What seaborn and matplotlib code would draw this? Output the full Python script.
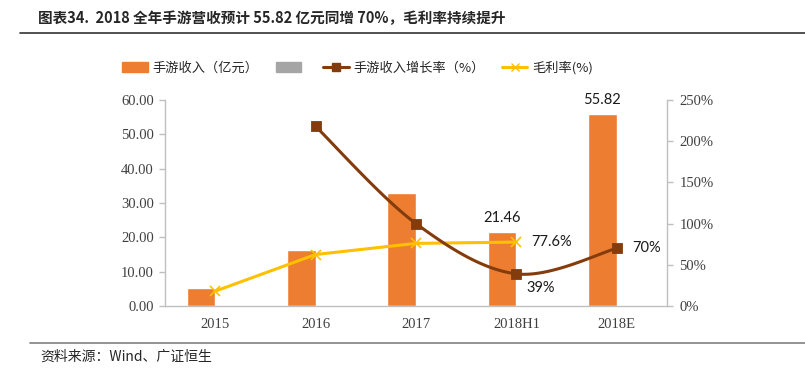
import matplotlib
import numpy as np
import pandas as pd
import matplotlib.pyplot as plt
import seaborn as sns
from matplotlib.lines import Line2D
from matplotlib.patches import Patch
from matplotlib.ticker import FuncFormatter

matplotlib.use('Agg')

# data
periods = ["2015", "2016", "2017", "2018H1", "2018E"]
revenue = [5.1, 16.4, 33.0, 21.46, 55.82]          # 亿元
growth = [np.nan, 218.0, 100.0, 39.0, 70.0]         # %
margin = [18.0, 62.5, 76.0, 77.6, np.nan]           # %

rev_name = "手游收入（亿元）"
blank_name = " "
growth_name = "手游收入增长率（%）"
margin_name = "毛利率(%)"

ORANGE = "#ED7D31"
GREY = "#A5A5A5"
BROWN = "#843C0C"
YELLOW = "#FFC000"
AXIS = "#BFBFBF"
TICK_TXT = "#404040"

CJK = ["Noto Sans CJK SC", "DejaVu Sans"]
SERIF = ["Liberation Serif", "Noto Sans CJK SC"]
LABEL = ["Lato", "DejaVu Sans"]


def smooth(xs, ys, sx=100.4, sy=0.824, n=30):
    """Excel-like smoothed line (Catmull-Rom), computed in pixel-ish space."""
    px = np.asarray(xs, float) * sx
    py = np.asarray(ys, float) * sy
    pts = np.column_stack([px, py])
    pts = np.vstack([pts[0], pts, pts[-1]])
    out = []
    for i in range(1, len(pts) - 2):
        p0, p1, p2, p3 = pts[i - 1], pts[i], pts[i + 1], pts[i + 2]
        c1 = p1 + (p2 - p0) / 6.0
        c2 = p2 - (p3 - p1) / 6.0
        t = np.linspace(0, 1, n)[:, None]
        seg = ((1 - t) ** 3) * p1 + 3 * ((1 - t) ** 2) * t * c1 + 3 * (1 - t) * t ** 2 * c2 + t ** 3 * p2
        out.append(seg if i == 1 else seg[1:])
    out = np.vstack(out)
    return out[:, 0] / sx, out[:, 1] / sy


sns.set_style("white")
plt.rcParams['font.family'] = CJK

fig = plt.figure(figsize=(8.05, 3.79), dpi=100)
ax = fig.add_axes([165 / 805, 1 - 306 / 379, 502 / 805, 206 / 379])

df = pd.DataFrame({
    "period": periods * 2,
    "value": revenue + [np.nan] * len(periods),
    "series": [rev_name] * len(periods) + [blank_name] * len(periods),
})
sns.barplot(data=df, x="period", y="value", hue="series", order=periods,
            palette=[ORANGE, GREY], width=0.57, dodge=True, ax=ax,
            legend=False, saturation=1)

ax.set_xlim(-0.5, 4.5)
ax.set_ylim(0, 60)
ax.set_yticks(np.arange(0, 61, 10))
ax.yaxis.set_major_formatter(FuncFormatter(lambda v, p: f"{v:.2f}"))
ax.set_xlabel("")
ax.set_ylabel("")
ax.set_xticks(range(len(periods)))
ax.set_xticklabels(periods)
ax.set_xticks(np.arange(-0.5, 4.6, 1), minor=True)
ax.tick_params(axis='x', which='major', length=0, pad=9)
ax.tick_params(axis='x', which='minor', length=5, color=AXIS, width=1)
ax.tick_params(axis='y', length=4, color=AXIS, width=1, pad=4, left=True)
for lbl in ax.get_xticklabels() + ax.get_yticklabels():
    lbl.set_fontfamily(SERIF)
    lbl.set_fontsize(10.5)
    lbl.set_color(TICK_TXT)
for s in ["top", "right"]:
    ax.spines[s].set_visible(False)
for s in ["left", "bottom"]:
    ax.spines[s].set_color(AXIS)
    ax.spines[s].set_linewidth(1)

ax2 = ax.twinx()
ax2.set_ylim(0, 250)
ax2.set_yticks(np.arange(0, 251, 50))
ax2.yaxis.set_major_formatter(FuncFormatter(lambda v, p: f"{v:.0f}%"))
ax2.tick_params(axis='y', length=4, color=AXIS, width=1, pad=5, right=True)
for lbl in ax2.get_yticklabels():
    lbl.set_fontfamily(SERIF)
    lbl.set_fontsize(10.5)
    lbl.set_color(TICK_TXT)
for s in ["top", "left", "bottom"]:
    ax2.spines[s].set_visible(False)
ax2.spines["right"].set_color(AXIS)
ax2.spines["right"].set_linewidth(1)

xpos = np.arange(len(periods))

# gross margin: straight line with x markers
m = ~np.isnan(margin)
sns.lineplot(x=xpos[m], y=np.array(margin)[m], ax=ax2, color=YELLOW,
             linewidth=2.2, marker="x", markersize=7, markeredgewidth=1.2,
             markeredgecolor=YELLOW, legend=False)

# revenue growth: smoothed line with square markers
g = ~np.isnan(growth)
sx, sy = smooth(xpos[g], np.array(growth)[g])
ax2.plot(sx, sy, color=BROWN, linewidth=2.2, zorder=4)
sns.scatterplot(x=xpos[g], y=np.array(growth)[g], ax=ax2, color=BROWN,
                marker="s", s=55, edgecolor=BROWN, zorder=5, legend=False)

# data labels
lab = dict(fontfamily=LABEL, fontsize=10.5, color="#1a1a1a")
bx = [i - 0.1425 for i in xpos]
ax.text(bx[3], revenue[3] + 2.2, "21.46", ha="center", va="bottom", **lab)
ax.text(bx[4], revenue[4] + 2.2, "55.82", ha="center", va="bottom", **lab)
ax2.text(3.15, margin[3], "77.6%", ha="left", va="center", **lab)
ax2.text(3.1, growth[3] - 17, "39%", ha="left", va="center", **lab)
ax2.text(4.15, growth[4], "70%", ha="left", va="center", **lab)

# legend
handles = [
    Patch(facecolor=ORANGE, edgecolor=ORANGE),
    Patch(facecolor=GREY, edgecolor=GREY),
    Line2D([], [], color=BROWN, linewidth=2.2, marker="s", markersize=6),
    Line2D([], [], color=YELLOW, linewidth=2.2, marker="x", markersize=6),
]
labels = [rev_name, "", growth_name, margin_name]
fig.legend(handles, labels, loc="center", bbox_to_anchor=(358 / 805, 1 - 68 / 379),
           ncol=4, frameon=False, handlelength=1.9,
           handleheight=0.8, columnspacing=1.3, handletextpad=0.4,
           prop={"family": CJK, "size": 9.5})

# title and source
fig.text(38 / 805, 1 - 18 / 379, "图表34.  2018 全年手游营收预计 55.82 亿元同增 70%，毛利率持续提升",
         fontsize=10.5, fontweight="bold", va="center", ha="left", family=CJK)
fig.add_artist(Line2D([20 / 805, 1.0], [1 - 33 / 379] * 2, color="#333333", linewidth=1.2))
fig.add_artist(Line2D([30 / 805, 1.0], [1 - 343 / 379] * 2, color="#808080", linewidth=1.2))
fig.text(40 / 805, 1 - 357 / 379, "资料来源：Wind、广证恒生", fontsize=10,
         va="center", ha="left", family=CJK)

fig.savefig("out.png", dpi=100)
